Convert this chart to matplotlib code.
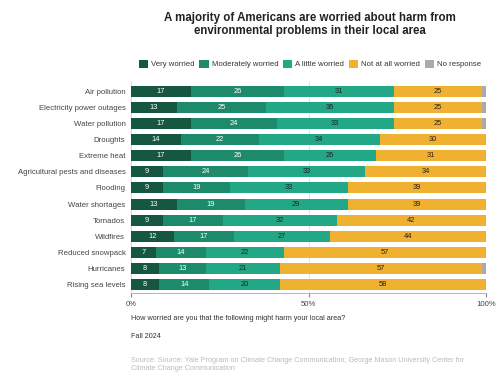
import matplotlib
matplotlib.use("Agg")
import matplotlib.pyplot as plt
import numpy as np

plt.rcParams['font.family'] = ['Liberation Sans', 'DejaVu Sans']

# survey results, percent
problems = ["Air pollution", "Electricity power outages", "Water pollution", "Droughts",
            "Extreme heat", "Agricultural pests and diseases", "Flooding", "Water shortages",
            "Tornados", "Wildfires", "Reduced snowpack", "Hurricanes", "Rising sea levels"]
very = [17, 13, 17, 14, 17, 9, 9, 13, 9, 12, 7, 8, 8]
moderately = [26, 25, 24, 22, 26, 24, 19, 19, 17, 17, 14, 13, 14]
a_little = [31, 36, 33, 34, 26, 33, 33, 29, 32, 27, 22, 21, 20]
not_at_all = [25, 25, 25, 30, 31, 34, 39, 39, 42, 44, 57, 57, 58]
no_response = [1, 1, 1, 0.5, 0.5, 0.5, 0.5, 0.5, 0.5, 0.5, 0.5, 1, 0.5]

series = [("Very worried", very, "#15573f", "white"),
          ("Moderately worried", moderately, "#1c8a6b", "white"),
          ("A little worried", a_little, "#22a886", "#222222"),
          ("Not at all worried", not_at_all, "#efb12f", "#222222"),
          ("No response", no_response, "#aaaaaa", None)]

fig = plt.figure(figsize=(5, 3.91), dpi=100)
ax = fig.add_axes([131/500, 1 - 293/391, 355/500, 212/391])

y = np.arange(len(problems))
left = np.zeros(len(problems))
for name, vals, col, tcol in series:
    vals = np.array(vals, dtype=float)
    ax.barh(y, vals, left=left, height=0.68, color=col, label=name, zorder=3)
    if tcol:
        for yi, l, v in zip(y, left, vals):
            ax.text(l + v / 2, yi, f"{v:.0f}", ha='center', va='center',
                    fontsize=5.4, color=tcol, zorder=4)
    left += vals

ax.set_xlim(0, 100)
ax.set_ylim(len(problems) - 0.5, -0.62)
ax.set_yticks(y)
ax.set_yticklabels(problems, fontsize=5.6, color='#444444')
ax.set_xticks([0, 50, 100])
ax.set_xticklabels(["0%", "50%", "100%"], fontsize=5.6, color='#444444')
ax.tick_params(axis='y', length=0, pad=4)
ax.tick_params(axis='x', length=3, color='#888888', pad=3)
for s in ['top', 'right', 'left']:
    ax.spines[s].set_visible(False)
ax.spines['bottom'].set_color('#aaaaaa')
ax.spines['bottom'].set_linewidth(0.6)
ax.xaxis.grid(True, color='#dddddd', linewidth=0.6, zorder=0)
ax.axvline(0, color='#cccccc', linewidth=0.6, zorder=1)

fig.text(310/500, 1 - 24.5/391, "A majority of Americans are worried about harm from\nenvironmental problems in their local area",
         ha='center', va='center', fontsize=8.3, fontweight='bold', color='#222222', linespacing=1.15)

fig.legend(loc='center', bbox_to_anchor=(310/500, 1 - 64/391), ncol=5, frameon=False,
           fontsize=5.6, handlelength=1.2, handleheight=1.2, handletextpad=0.4,
           columnspacing=0.6, labelcolor='#333333')

fig.text(131/500, 1 - 319/391, "How worried are you that the following might harm your local area?",
         fontsize=5.2, color='#333333', va='center')
fig.text(131/500, 1 - 337/391, "Fall 2024", fontsize=5.2, color='#333333', va='center')
fig.text(131/500, 1 - 365/391,
         "Source: Source: Yale Program on Climate Change Communication; George Mason University Center for\nClimate Change Communication",
         fontsize=5.2, color='#bbbbbb', va='center', linespacing=1.2)

fig.savefig("out.png", dpi=100)
